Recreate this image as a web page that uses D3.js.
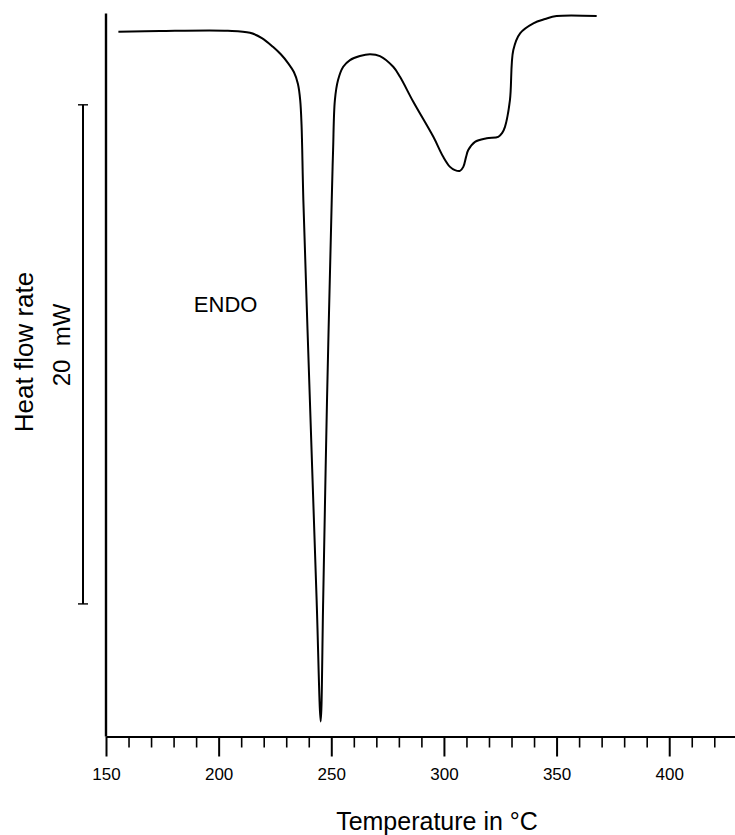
<!DOCTYPE html>
<html>
<head>
<meta charset="utf-8">
<script src="https://cdn.jsdelivr.net/npm/d3@7"></script>
<style>
  body { margin: 0; background: #fff; }
  text { font-family: "Liberation Sans", Arial, Helvetica, sans-serif; fill: #000; }
</style>
</head>
<body>
<svg id="chart" width="735" height="835"></svg>
<script>
// DSC trace: temperature in °C, heat flow in mW (zero is arbitrary)
const temps = [155.5, 174, 204.1, 213.9, 219.2, 224.1, 227.7, 230.8, 233.4, 235.2, 236.2, 236.8, 237.6,
  240.5, 243.5, 245.3, 246.4, 248.1, 250.2, 250.8, 251.6, 253, 255.3, 258.3, 262.7, 267.2, 271.6, 277.5,
  280.5, 286.4, 295.3, 299.7, 302.7, 304.9, 307.1, 308.6, 309.8, 310.8, 313.8, 319, 324.1, 325.8, 327.1,
  329.3, 330.8, 333.8, 339.7, 344.9, 350, 367.8];
const heatFlow = [28.17, 28.2, 28.21, 28.13, 27.92, 27.57, 27.26, 26.92, 26.56, 26.08, 25.44, 24.44, 21.44,
  13.44, 5.44, 0.6, 5.44, 13.44, 21.44, 23.44, 25.44, 26.24, 26.77, 27.04, 27.2, 27.27, 27.2, 26.77,
  26.37, 25.37, 23.97, 23.17, 22.77, 22.64, 22.61, 22.77, 23.16, 23.44, 23.77, 23.91, 23.97, 24.12, 24.37,
  25.44, 27.44, 28.11, 28.51, 28.68, 28.8, 28.8];

const majorTicks = [150, 200, 250, 300, 350, 400];
const minorTicks = [160, 170, 180, 190, 210, 220, 230, 240, 260, 270, 280, 290,
  310, 320, 330, 340, 360, 370, 380, 390, 410, 420];
const scaleBar = [5.3, 25.25];   // 20 mW bar
const yAxisTop = 28.9;
const endoPos = [189, 16.95];    // where the ENDO note sits (°C, mW)

const svg = d3.select('#chart');

const x = d3.scaleLinear().domain([150, 430]).range([106, 736.8]);
const y = d3.scaleLinear().domain([0, 29.44]).range([736.5, 0]);

// minor ticks, no labels
svg.append('g')
  .attr('transform', 'translate(0,' + y(0) + ')')
  .call(d3.axisBottom(x).tickValues(minorTicks).tickSize(11).tickSizeOuter(0).tickFormat(''))
  .call(g => g.select('.domain').remove())
  .call(g => g.selectAll('.tick line').attr('stroke', '#000').attr('stroke-width', 1.6));

// major ticks with labels
svg.append('g')
  .attr('transform', 'translate(0,' + y(0) + ')')
  .call(d3.axisBottom(x).tickValues(majorTicks).tickSize(20).tickSizeOuter(0).tickPadding(11))
  .call(g => g.select('.domain').attr('stroke', '#000').attr('stroke-width', 2.2))
  .call(g => g.selectAll('.tick line').attr('stroke', '#000').attr('stroke-width', 2))
  .call(g => g.selectAll('.tick text')
    .attr('font-size', 17)
    .style('font-family', '"Liberation Sans", Arial, sans-serif'));

// vertical axis
svg.append('line')
  .attr('x1', x(150)).attr('x2', x(150))
  .attr('y1', y(yAxisTop)).attr('y2', y(0))
  .attr('stroke', '#000').attr('stroke-width', 2.4);

// 20 mW scale bar
const barX = 83;
const bar = svg.append('g').attr('stroke', '#000');
bar.append('line')
  .attr('x1', barX).attr('x2', barX)
  .attr('y1', y(scaleBar[0])).attr('y2', y(scaleBar[1]))
  .attr('stroke-width', 2);
scaleBar.forEach(v => {
  bar.append('line')
    .attr('x1', barX - 5).attr('x2', barX + 5)
    .attr('y1', y(v)).attr('y2', y(v))
    .attr('stroke-width', 1.4);
});

// the trace
const line = d3.line()
  .x(d => x(d[0]))
  .y(d => y(d[1]))
  .curve(d3.curveCatmullRom.alpha(0.5));

svg.append('path')
  .datum(d3.zip(temps, heatFlow))
  .attr('d', line)
  .attr('fill', 'none')
  .attr('stroke', '#000')
  .attr('stroke-width', 2)
  .attr('stroke-linejoin', 'round');

// labels
svg.append('text')
  .attr('x', x(endoPos[0])).attr('y', y(endoPos[1]))
  .attr('font-size', 22)
  .text('ENDO');

svg.append('text')
  .attr('transform', 'translate(33,352) rotate(-90)')
  .attr('text-anchor', 'middle')
  .attr('font-size', 26)
  .text('Heat flow rate');

svg.append('text')
  .attr('transform', 'translate(70,345) rotate(-90)')
  .attr('text-anchor', 'middle')
  .attr('font-size', 24)
  .attr('xml:space', 'preserve')
  .text('20  mW');

svg.append('text')
  .attr('x', 437).attr('y', 830)
  .attr('text-anchor', 'middle')
  .attr('font-size', 25)
  .text('Temperature in °C');
</script>
</body>
</html>
